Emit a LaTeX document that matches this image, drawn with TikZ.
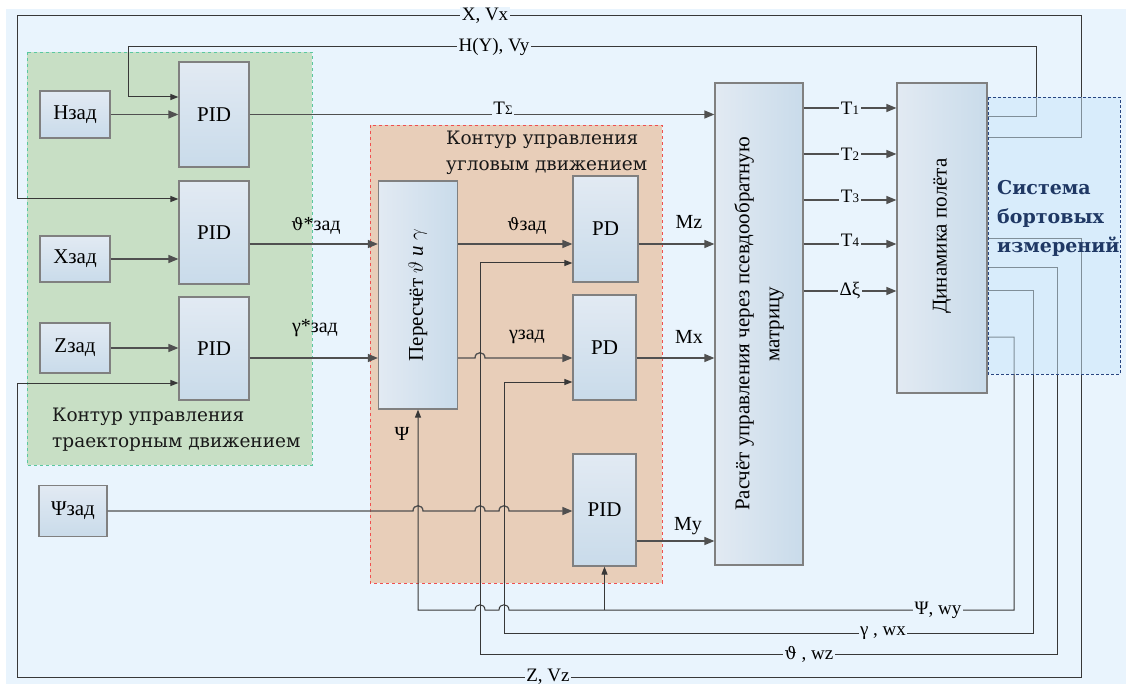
\documentclass[tikz,border=0pt]{standalone}
\usepackage{fontspec}
\setmainfont{Liberation Serif}
\newfontfamily\grpfont{DejaVu Serif}
\newcommand{\vth}{{\grpfont\fontsize{17}{17}\selectfont ϑ}}
\usetikzlibrary{arrows.meta}
\definecolor{bgc}{RGB}{233,244,253}
\definecolor{grn}{RGB}{200,223,197}
\definecolor{grnb}{RGB}{90,200,160}
\definecolor{org}{RGB}{232,206,185}
\definecolor{orgb}{RGB}{240,80,80}
\definecolor{blkt}{RGB}{226,234,243}
\definecolor{blkb}{RGB}{201,219,234}
\definecolor{blkd}{RGB}{128,128,128}
\definecolor{lnc}{RGB}{80,80,80}
\definecolor{sysb}{RGB}{200,230,250}
\definecolor{sysd}{RGB}{40,70,130}
\definecolor{syst}{RGB}{31,56,100}
\tikzset{
  blk/.style={draw=blkd, line width=1.2pt, top color=blkt, bottom color=blkb, inner sep=0pt, font=\fontsize{21}{21}\selectfont},
  blkh/.style={blk, left color=blkt, right color=blkb},
  sig/.style={draw=lnc, line width=1.3pt},
  fb/.style={draw=black!78, line width=1pt},
  arr/.style={-{Triangle[length=10pt,width=8pt]}},
  arrs/.style={-{Triangle[length=8pt,width=6pt]}},
  lab/.style={font=\fontsize{20}{20}\selectfont, inner sep=0pt},
  onl/.style={font=\fontsize{19}{19}\selectfont, fill=bgc, inner sep=1.5pt},
  grp/.style={font=\grpfont\fontsize{18.5}{18.5}\selectfont, anchor=base west, inner sep=0pt, text=black!90},
  sys/.style={font=\grpfont\bfseries\fontsize{19}{19}\selectfont, anchor=base west, inner sep=0pt, text=syst},
  rot/.style={rotate=90, font=\fontsize{21}{30}\selectfont, align=center}
}
\begin{document}
\begin{tikzpicture}[x=1pt,y=-1pt]
\useasboundingbox (0,0) rectangle (1126,684);
% background and groups
\fill[bgc] (6,9) rectangle (1126,684);
\draw[grnb, dashed, fill=grn, line width=0.8pt] (27,52) rectangle (312,465);
\draw[orgb, dashed, fill=org, line width=0.8pt] (370,125) rectangle (662,583);

% blocks
\node[blk, minimum width=70pt, minimum height=47pt] (hzad) at (75,114.5) {Нзад};
\node[blk, minimum width=70pt, minimum height=105pt] (pid1) at (214,114.5) {PID};
\node[blk, minimum width=70pt, minimum height=103pt] (pid2) at (214,232.5) {PID};
\node[blk, minimum width=70pt, minimum height=46pt] (xzad) at (75,259) {Xзад};
\node[blk, minimum width=70pt, minimum height=50pt] (zzad) at (75,348) {Zзад};
\node[blk, minimum width=70pt, minimum height=103pt] (pid3) at (214,348.5) {PID};
\node[blk, minimum width=68pt, minimum height=51pt] (psizad) at (73,511) {Ψзад};
\node[blkh, minimum width=79pt, minimum height=228pt] (recalc) at (418,295) {};
\node[rot] at (recalc.center) {Пересчёт $\vartheta$ \textit{и} $\gamma$};
\node[blk, minimum width=65pt, minimum height=106pt] (pd1) at (605.5,229) {PD};
\node[blk, minimum width=63pt, minimum height=105pt] (pd2) at (604.5,347.5) {PD};
\node[blk, minimum width=63pt, minimum height=112pt] (pid4) at (604.5,510) {PID};
\node[blkh, minimum width=88pt, minimum height=482pt] (rasch) at (759,324) {};
\node[rot] at (rasch.center) {Расчёт управления через псевдообратную\\матрицу};
\node[blkh, minimum width=90pt, minimum height=310pt] (dyn) at (942,238) {};
\node[rot] at (942,236) {Динамика полёта};

% forward signals
\draw[sig, arr] (hzad.east) -- (pid1.west |- hzad.east);
\draw[sig, arr] (xzad.east) -- (pid2.west |- xzad.east);
\draw[sig, arr] (zzad.east) -- (pid3.west |- zzad.east);
\draw[sig, arr] (pid1.east) -- (rasch.west |- pid1.east);
\node[onl] at (503,108) {T{\fontsize{13}{13}\selectfont Σ}};
\draw[sig, arr] (pid2.east |- 0,244) -- (recalc.west |- 0,244);
\node[lab] at (316,226) {\vth{}*зад};
\draw[sig, arr] (pid3.east |- 0,358) -- (recalc.west |- 0,358);
\node[lab] at (315,328) {γ*зад};
\draw[sig, arr] (recalc.east |- 0,244) -- (pd1.west |- 0,244);
\node[lab] at (527,226) {\vth{}зад};
\draw[sig, arr] (recalc.east |- 0,358) -- (475,358) .. controls (475,351) and (485,351) .. (485,358) -- (pd2.west |- 0,358);
\node[lab] at (527,337) {γзад};
\draw[sig, arr] (pd1.east |- 0,244) -- (rasch.west |- 0,244);
\node[lab] at (689,222) {Mz};
\draw[sig, arr] (pd2.east |- 0,358) -- (rasch.west |- 0,358);
\node[lab] at (689,337) {Mx};
\draw[sig, arr] (pid4.east |- 0,541) -- (rasch.west |- 0,541);
\node[lab] at (688,526) {My};
\draw[sig, arr] (psizad.east) -- (413,511) .. controls (413,504) and (423,504) .. (423,511)
  -- (475,511) .. controls (475,504) and (485,504) .. (485,511)
  -- (499,511) .. controls (499,504) and (509,504) .. (509,511) -- (pid4.west |- psizad.east);

% to dynamics
\draw[sig, arr] (rasch.east |- 0,108) -- (dyn.west |- 0,108) node[onl, midway] {T{\fontsize{13}{13}\selectfont 1}};
\draw[sig, arr] (rasch.east |- 0,154) -- (dyn.west |- 0,154) node[onl, midway] {T{\fontsize{13}{13}\selectfont 2}};
\draw[sig, arr] (rasch.east |- 0,200) -- (dyn.west |- 0,200) node[onl, midway, yshift=4pt] {T{\fontsize{13}{13}\selectfont 3}};
\draw[sig, arr] (rasch.east |- 0,244) -- (dyn.west |- 0,244) node[onl, midway, yshift=4pt] {T{\fontsize{13}{13}\selectfont 4}};
\draw[sig, arr] (rasch.east |- 0,291) -- (dyn.west |- 0,291) node[onl, midway] {Δξ};

% feedback
\draw[fb, arrs] (dyn.east |- 0,117) -- (1036,117) -- (1036,47) -- (128,47) -- (128,97) -- (pid1.west |- 0,97);
\node[onl] at (494,47) {H(Y), Vy};
\draw[fb, arrs] (dyn.east |- 0,138) -- (1081,138) -- (1081,16) -- (17,16) -- (17,199) -- (pid2.west |- 0,199);
\node[onl] at (485,16) {X, Vx};
\draw[fb, arrs] (dyn.east |- 0,239) -- (1081,239) -- (1081,677) -- (17,677) -- (17,383) -- (pid3.west |- 0,383);
\node[onl] at (548,677) {Z, Vz};
\draw[fb, arrs] (dyn.east |- 0,268) -- (1057,268) -- (1057,654) -- (480,654) -- (480,263) -- (pd1.west |- 0,263);
\node[onl] at (809,654) {\vth{} , wz};
\draw[fb, arrs] (dyn.east |- 0,291) -- (1033,291) -- (1033,633) -- (504,633) -- (504,382) -- (pd2.west |- 0,382);
\node[onl] at (883,633) {γ , wx};
\draw[fb, arrs] (dyn.east |- 0,337) -- (1014,337) -- (1014,610) -- (509,610) .. controls (509,603) and (499,603) .. (499,610)
  -- (485,610) .. controls (485,603) and (475,603) .. (475,610) -- (418,610) -- (recalc.south);
\draw[fb, arrs] (pid4.south |- 0,610) -- (pid4.south);
\node[onl] at (938,610) {Ψ, wy};
\node[lab] at (402,434) {Ψ};

% measurement system
\draw[sysd, densely dashed, fill=sysb, fill opacity=0.5, line width=0.8pt] (988,97) rectangle (1120,374);
\node[sys] at (997,195) {Система};
\node[sys] at (997,224) {бортовых};
\node[sys] at (997,253) {измерений};

% group labels
\node[grp] at (52,421) {Контур управления};
\node[grp] at (52,447) {траекторным движением};
\node[grp] at (446,145) {Контур управления};
\node[grp] at (446,171) {угловым движением};
\end{tikzpicture}
\end{document}
